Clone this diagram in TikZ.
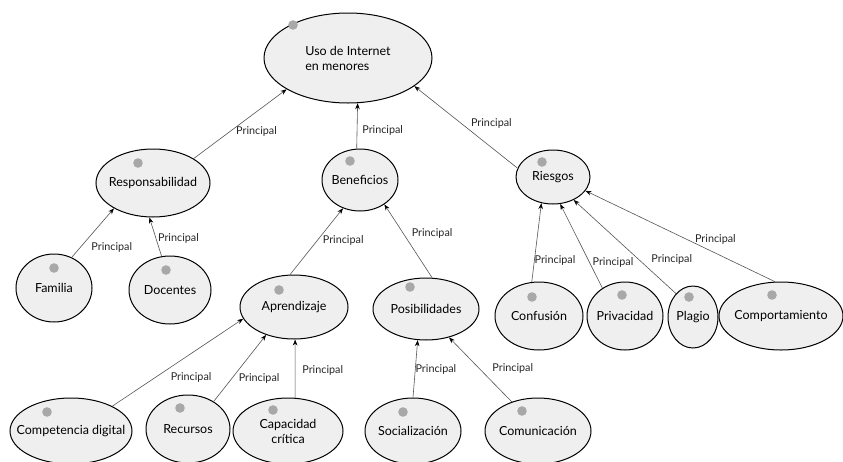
\documentclass[tikz,border=0pt]{standalone}
\usepackage{fontspec}
\setmainfont{Lato}
\usetikzlibrary{shapes.geometric,arrows.meta,calc}
\definecolor{conceptfill}{HTML}{EFEFEF}
\definecolor{dotgray}{HTML}{A8A8A8}
\definecolor{linkgray}{HTML}{555555}
\tikzset{
  concept/.style={ellipse,draw=black,line width=1pt,fill=conceptfill,
    inner xsep=-18pt,inner ysep=0pt,font=\fontsize{12.5}{15}\selectfont},
  link/.style={draw=linkgray,line width=0.6pt,-{Stealth[length=6pt,width=4.5pt,black]}},
  lbl/.style={font=\fontsize{10.8}{13}\selectfont,text=black!85,inner sep=0pt,anchor=west},
}

\begin{document}
\begin{tikzpicture}[x=1pt,y=-1pt]
  \useasboundingbox[fill=white] (0,0) rectangle (843,461);
  % concepts
  \node[concept,minimum width=168pt,minimum height=90pt,align=left] (uso) at (348,58) {Uso de Internet\\en menores};
  \node[concept,minimum width=114pt,minimum height=68pt] (resp) at (153,183) {Responsabilidad};
  \node[concept,minimum width=76pt,minimum height=62pt] (ben) at (360,180) {Beneficios};
  \node[concept,minimum width=74pt,minimum height=54pt] (rie) at (553,177) {Riesgos};
  \node[concept,minimum width=76pt,minimum height=68pt] (fam) at (54,288) {Familia};
  \node[concept,minimum width=82pt,minimum height=68pt] (doc) at (170,290) {Docentes};
  \node[concept,minimum width=108pt,minimum height=64pt] (apr) at (294,307) {Aprendizaje};
  \node[concept,minimum width=106pt,minimum height=62pt] (pos) at (426,309) {Posibilidades};
  \node[concept,minimum width=88pt,minimum height=68pt] (conf) at (539,316) {Confusión};
  \node[concept,minimum width=76pt,minimum height=68pt] (priv) at (625,316) {Privacidad};
  \node[concept,minimum width=50pt,minimum height=62pt] (plag) at (693,317) {Plagio};
  \node[concept,minimum width=124pt,minimum height=68pt] (comp) at (781,316) {Comportamiento};
  \node[concept,minimum width=122pt,minimum height=66pt] (cdig) at (71,431) {Competencia digital};
  \node[concept,minimum width=84pt,minimum height=68pt] (rec) at (188,429) {Recursos};
  \node[concept,minimum width=110pt,minimum height=66pt,align=center] (cap) at (288,431) {Capacidad\\crítica};
  \node[concept,minimum width=96pt,minimum height=66pt] (soc) at (413,431) {Socialización};
  \node[concept,minimum width=106pt,minimum height=66pt] (com) at (538,431) {Comunicación};
  % grey dots
  \foreach \n/\dx/\dy in {uso/-55/-33,resp/-15/-20,ben/-10/-19,rie/-11/-15,fam/0/-20,doc/-4/-20,
      apr/-15/-17,pos/-16/-22,conf/-7/-19,priv/-3/-21,plag/-4/-20,comp/-9/-21,
      cdig/-24/-19,rec/-8/-21,cap/-15/-21,soc/-10/-19,com/-16/-20}
    \fill[dotgray] ($(\n)+(\dx,\dy)$) circle (4.8pt);
  % links
  \draw[link] (resp.31) -- node[lbl,pos=.39,xshift=6pt] {Principal} (uso.207);
  \draw[link] (ben.96) -- node[lbl,pos=.4,xshift=5pt] {Principal} (uso.282);
  \draw[link] (rie.166) -- node[lbl,pos=.55,xshift=10pt] {Principal} (uso.337);
  \draw[link] (fam.60) -- node[lbl,pos=.2,xshift=11pt] {Principal} (resp.213);
  \draw[link] (doc.104) -- node[lbl,pos=.47,xshift=2pt] {Principal} (resp.264);
  \draw[link] (apr.97) -- node[lbl,pos=.52,xshift=5pt] {Principal} (ben.239);
  \draw[link] (pos.79) -- node[lbl,pos=.6,xshift=8pt] {Principal} (ben.315);
  \draw[link] (conf.102) -- node[lbl,pos=.27,xshift=0pt] {Principal} (rie.246);
  \draw[link] (priv.129) -- node[lbl,pos=.31,xshift=3pt] {Principal} (rie.285);
  \draw[link] (plag.126) -- node[lbl,pos=.36,xshift=12pt] {Principal} (rie.312);
  \draw[link] (comp.100) -- node[lbl,pos=.46,xshift=7pt] {Principal} (rie.337);
  \draw[link] (cdig.31) -- node[lbl,pos=.33,xshift=15pt] {Principal} (apr.193);
  \draw[link] (rec.47) -- node[lbl,pos=.34,xshift=7pt] {Principal} (apr.225);
  \draw[link] (cap.78) -- node[lbl,pos=.47,xshift=7pt] {Principal} (apr.272);
  \draw[link] (soc.90) -- node[lbl,pos=.49,xshift=0pt] {Principal} (pos.255);
  \draw[link] (com.132) -- node[lbl,pos=.52,xshift=13pt] {Principal} (pos.309);
\end{tikzpicture}
\end{document}
